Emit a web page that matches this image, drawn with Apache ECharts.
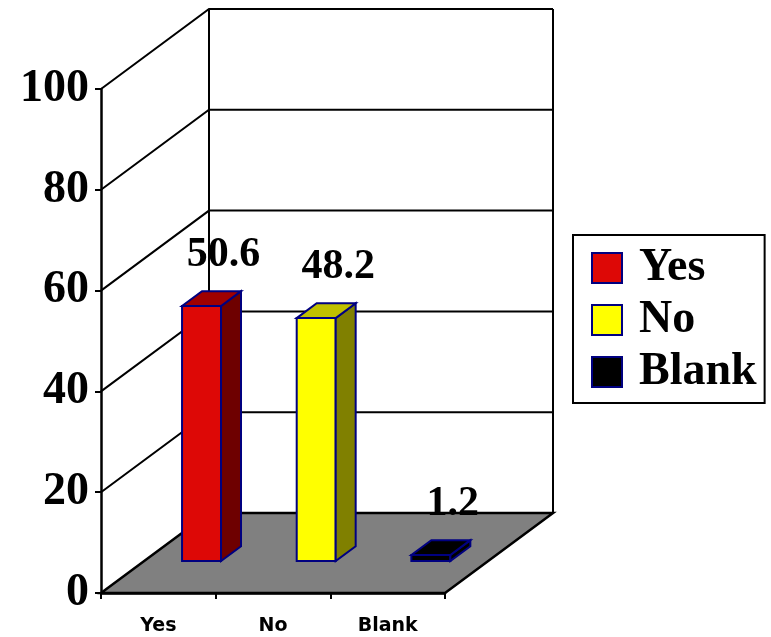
<!DOCTYPE html>
<html>
<head>
<meta charset="utf-8">
<script src="https://cdn.jsdelivr.net/npm/echarts@6/dist/echarts.min.js"></script>
<style>
  html, body { margin: 0; padding: 0; background: #fff; }
  #chart { width: 771px; height: 637px; }
</style>
</head>
<body>
<div id="chart"></div>
<script>
// data
const categories = ["Yes", "No", "Blank"];
const values = [50.6, 48.2, 1.2];
const yTicks = [0, 20, 40, 60, 80, 100];

// look
const frontColors = ["#dd0806", "#ffff00", "#000000"];
const sideColors = ["#6e0000", "#808000", "#000000"];
const topColors = ["#a00000", "#c0c000", "#000000"];
const EDGE = "#000080";
const SERIF = "'Liberation Serif', 'Times New Roman', serif";

// depth of the fake 3d box, and where the bars sit in it (0 = front, 1 = back)
const DX = 108, DY = -80;
const D0 = 0.4, D1 = 0.585;

const chart = echarts.init(document.getElementById("chart"), null, { renderer: "canvas" });

function renderFrame(params, api) {
  const cs = params.coordSys;
  const v = api.value(1);
  const x0 = cs.x, x1 = cs.x + cs.width;
  const y = api.coord([0, v])[1];
  const line = { stroke: "#000", lineWidth: 2, fill: null };
  const children = [];

  if (v === yTicks[0]) {
    // floor
    children.push({
      type: "polygon",
      shape: { points: [[x0, y], [x1, y], [x1 + DX, y + DY], [x0 + DX, y + DY]] },
      style: { fill: "#808080", stroke: "#000", lineWidth: 2.5 },
    });
  } else {
    children.push({ type: "polyline", shape: { points: [[x0, y], [x0 + DX, y + DY], [x1 + DX, y + DY]] }, style: line });
  }
  if (v === yTicks[yTicks.length - 1]) {
    const yb = api.coord([0, yTicks[0]])[1];
    children.push({ type: "line", shape: { x1: x0 + DX, y1: y + DY, x2: x0 + DX, y2: yb + DY }, style: line });
    children.push({ type: "line", shape: { x1: x1 + DX, y1: y + DY, x2: x1 + DX, y2: yb + DY }, style: line });
  }
  return { type: "group", children };
}

function renderBar(params, api) {
  const i = api.value(0);
  const v = api.value(1);
  const base = api.coord([i, 0]);
  const top = api.coord([i, v]);
  const w = api.size([1, 0])[0] * 0.34;
  const cx = base[0] + D0 * DX;
  const xl = cx - w / 2, xr = cx + w / 2;
  const yb = base[1] + D0 * DY, yt = top[1] + D0 * DY;
  const ddx = (D1 - D0) * DX, ddy = (D1 - D0) * DY;
  const edge = { stroke: EDGE, lineWidth: 2 };
  return {
    type: "group",
    children: [
      { type: "rect", shape: { x: xl, y: yt, width: w, height: yb - yt }, style: Object.assign({ fill: frontColors[i] }, edge) },
      { type: "polygon", shape: { points: [[xr, yt], [xr + ddx, yt + ddy], [xr + ddx, yb + ddy], [xr, yb]] }, style: Object.assign({ fill: sideColors[i] }, edge) },
      { type: "polygon", shape: { points: [[xl, yt], [xr, yt], [xr + ddx, yt + ddy], [xl + ddx, yt + ddy]] }, style: Object.assign({ fill: topColors[i] }, edge) },
      {
        type: "text",
        x: cx + ddx / 2 + 12,
        y: yt + ddy - 36,
        style: {
          text: String(v),
          fill: "#000",
          font: "bold 42px " + SERIF,
          textAlign: "center",
          textVerticalAlign: "middle",
        },
      },
    ],
  };
}

const series = [
  {
    type: "custom",
    name: "frame",
    renderItem: renderFrame,
    data: yTicks.map((t) => [0, t]),
    silent: true,
    z: 1,
  },
];
categories.forEach((c, i) => {
  series.push({
    type: "custom",
    name: c,
    renderItem: renderBar,
    data: [[i, values[i]]],
    itemStyle: { color: frontColors[i], borderColor: EDGE, borderWidth: 2 },
    z: 3,
  });
});

chart.setOption({
  animation: false,
  backgroundColor: "#fff",
  grid: { left: 101, top: 89, width: 344, height: 504 },
  xAxis: {
    type: "category",
    data: categories,
    boundaryGap: true,
    axisLine: { lineStyle: { color: "#000", width: 2.5 } },
    axisTick: { show: true, length: 6, lineStyle: { color: "#000", width: 2 } },
    axisLabel: {
      color: "#000",
      fontFamily: "'DejaVu Sans', sans-serif",
      fontWeight: "bold",
      fontSize: 19,
      margin: 24,
    },
    z: 5,
  },
  yAxis: {
    type: "value",
    min: 0,
    max: 100,
    interval: 20,
    axisLine: { show: true, lineStyle: { color: "#000", width: 2.5 } },
    axisTick: { show: true, length: 6, lineStyle: { color: "#000", width: 2 } },
    splitLine: { show: false },
    axisLabel: {
      color: "#000",
      fontFamily: SERIF,
      fontWeight: "bold",
      fontSize: 46,
      margin: 12,
    },
    z: 5,
  },
  legend: {
    data: categories,
    orient: "vertical",
    left: 573,
    top: 235,
    icon: "rect",
    itemWidth: 30,
    itemHeight: 30,
    itemGap: 6,
    padding: [10, 8, 8, 18],
    borderColor: "#000",
    borderWidth: 2,
    backgroundColor: "#fff",
    itemStyle: { borderColor: EDGE, borderWidth: 2 },
    textStyle: {
      color: "#000",
      fontFamily: SERIF,
      fontWeight: "bold",
      fontSize: 46,
      lineHeight: 46,
      padding: [0, 0, 0, 12],
    },
    selectedMode: false,
  },
  series,
});
</script>
</body>
</html>
